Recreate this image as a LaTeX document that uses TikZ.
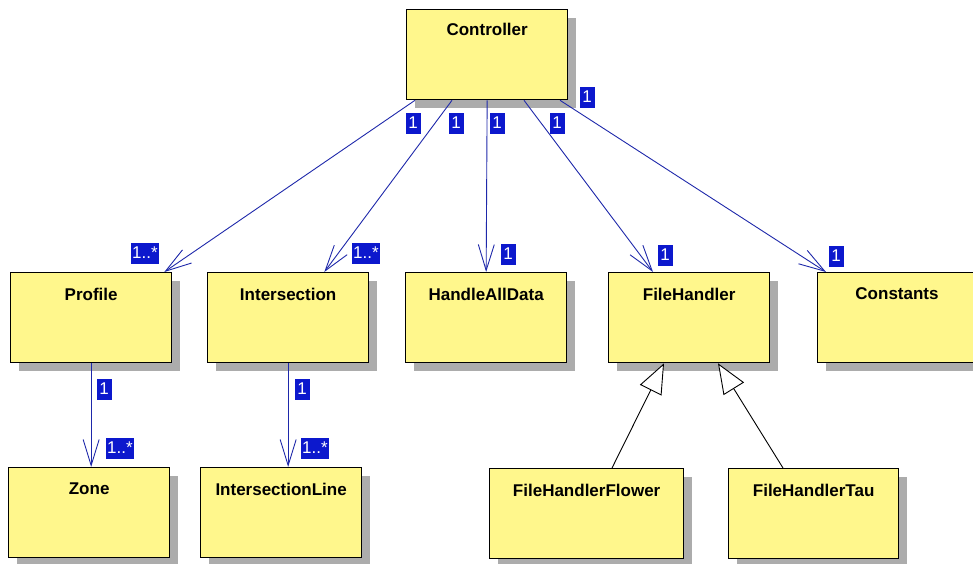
\documentclass[tikz,border=0pt]{standalone}
\usepackage{fontspec}
\setmainfont{Liberation Sans}
\usetikzlibrary{arrows.meta,calc,shadows}

\definecolor{clsfill}{RGB}{255,247,140}
\definecolor{shadowgray}{RGB}{172,172,172}
\definecolor{multblue}{RGB}{12,24,205}
\definecolor{assocblue}{RGB}{30,40,170}

\tikzset{
  cls/.style={draw=black, line width=1.3pt, fill=clsfill, anchor=north west,
    minimum width=161pt, minimum height=90pt, inner sep=0pt,
    drop shadow={shadow xshift=8pt, shadow yshift=-8pt, fill=shadowgray, opacity=1}},
  clsname/.style={font=\bfseries\fontsize{17}{19}\selectfont, inner sep=0pt},
  mult/.style={fill=multblue, text=white, font=\fontsize{17}{19}\selectfont,
    minimum height=21pt, minimum width=15pt, inner xsep=1.5pt, inner ysep=0pt},
  assoc/.style={draw=assocblue, line width=0.9pt,
    -{Straight Barb[length=26pt, width=16pt, line width=0.9pt]}},
  generalize/.style={draw=black, line width=0.9pt,
    -{Triangle[open, length=30pt, width=24pt, fill=white, line width=0.9pt]}}
}

\begin{document}
\begin{tikzpicture}[x=1pt, y=-1pt]
\useasboundingbox (0,0) rectangle (973,563);
\clip (0,0) rectangle (973,563);

% classes
\node[cls] (ctrl)  at (406,9)   {};
\node[cls] (prof)  at (10,272)  {};
\node[cls] (inter) at (207,272) {};
\node[cls] (had)   at (405,272) {};
\node[cls] (fh)    at (608,272) {};
\node[cls] (const) at (817,272) {};
\node[cls] (zone)  at (8,467)   {};
\node[cls] (iline) at (200,467) {};
\node[cls, minimum width=194pt] (fhf) at (489,468) {};
\node[cls, minimum width=170pt] (fht) at (728,468) {};

% class names
\node[clsname] (ctrl-n)  at ([yshift=-20pt]ctrl.north)  {Controller};
\node[clsname] (prof-n)  at ([yshift=-22pt]prof.north)  {Profile};
\node[clsname] (inter-n) at ([yshift=-22pt]inter.north) {Intersection};
\node[clsname] (had-n)   at ([yshift=-22pt]had.north)   {HandleAllData};
\node[clsname] (fh-n)    at ([yshift=-22pt]fh.north)    {FileHandler};
\node[clsname] (const-n) at ([yshift=-22pt]const.north west) [xshift=80pt] {Constants};
\node[clsname] (zone-n)  at ([yshift=-22pt]zone.north)  {Zone};
\node[clsname] (iline-n) at ([yshift=-22pt]iline.north) {IntersectionLine};
\node[clsname] (fhf-n)   at ([yshift=-22pt]fhf.north)   {FileHandlerFlower};
\node[clsname] (fht-n)   at ([yshift=-22pt]fht.north)   {FileHandlerTau};

% associations from the controller
\draw[assoc] ($(ctrl.south west)+(9,0)$)   -- ($(prof.north east)+(-8,0)$);
\draw[assoc] ($(ctrl.south west)+(46,0)$)  -- ($(inter.north east)+(-45,0)$);
\draw[assoc] (ctrl.south)                  -- (had.north);
\draw[assoc] ($(ctrl.south west)+(118,0)$) -- ($(fh.north west)+(45,0)$);
\draw[assoc] ($(ctrl.south west)+(154,0)$) -- ($(const.north west)+(9,0)$);

% compositions of the lower level
\draw[assoc] (prof.south)  -- (prof.south |- zone.north);
\draw[assoc] (inter.south) -- (inter.south |- iline.north);

% inheritance
\draw[generalize] ($(fhf.north west)+(123,0)$) -- ($(fh.south west)+(56,0)$);
\draw[generalize] ($(fht.north west)+(55,0)$)  -- ($(fh.south west)+(110,0)$);

% multiplicities
\node[mult] (m1)  at (413,123) {1};
\node[mult] (m2)  at (456,123) {1};
\node[mult] (m3)  at (497,123) {1};
\node[mult] (m4)  at (557,123) {1};
\node[mult] (m5)  at (587,97)  {1};
\node[mult] (m6)  at (145,253) {1..*};
\node[mult] (m7)  at (366,253) {1..*};
\node[mult] (m8)  at (508,254) {1};
\node[mult] (m9)  at (665,255) {1};
\node[mult] (m10) at (836,256) {1};
\node[mult] (m11) at (104,389) {1};
\node[mult] (m12) at (120,448) {1..*};
\node[mult] (m13) at (302,389) {1};
\node[mult] (m14) at (315,448) {1..*};
\end{tikzpicture}
\end{document}
